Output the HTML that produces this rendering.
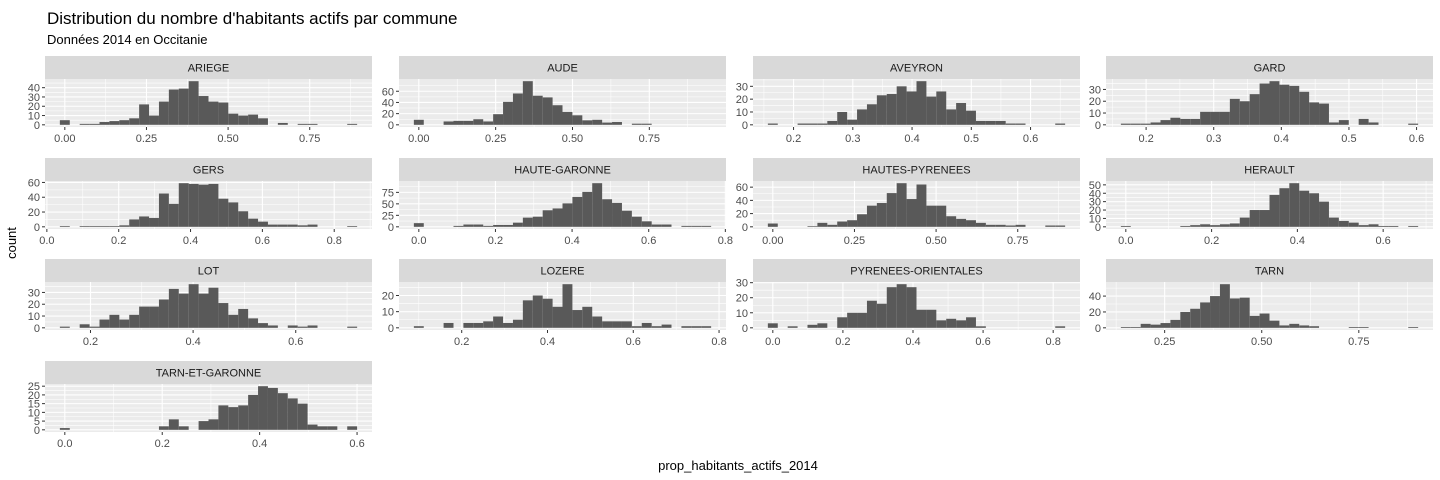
<!DOCTYPE html>
<html><head><meta charset="utf-8">
<style>
html,body{margin:0;padding:0;background:#fff;}
svg{display:block;font-family:"Liberation Sans",Arial,sans-serif;}
</style></head>
<body>
<svg id="chart" width="1440" height="480" viewBox="0 0 1440 480">
<text x="47" y="24" font-size="17" fill="#000">Distribution du nombre d'habitants actifs par commune</text>
<text x="47" y="44" font-size="13" fill="#000">Données 2014 en Occitanie</text>
<text x="738" y="470" font-size="13" text-anchor="middle" fill="#000">prop_habitants_actifs_2014</text>
<text x="0" y="0" font-size="13" text-anchor="middle" fill="#000" transform="translate(16,243) rotate(-90)">count</text>
<g id="panels"></g>
</svg>
<script>
const panelNames = ["ARIEGE","AUDE","AVEYRON","GARD","GERS","HAUTE-GARONNE","HAUTES-PYRENEES","HERAULT","LOT","LOZERE","PYRENEES-ORIENTALES","TARN","TARN-ET-GARONNE"];
const dataMin = [0,0,0.165,0.17,0.05,0,0,0,0.15,0.1,0,0.15,0];
const dataMax = [0.88,0.935,0.65,0.595,0.85,0.75,0.88,0.67,0.71,0.77,0.82,0.89,0.59];
const countsAriege = [5,0,1,1,3,4,5,7,22,10,25,38,39,47,31,25,24,12,10,11,7,0,2,0,1,1,0,0,0,1];
const countsAude = [9,0,0,6,7,7,10,6,19,41,56,78,52,49,35,23,17,8,9,4,5,0,2,2,0,0,0,0,0,0];
const countsAveyron = [1,0,0,1,1,1,3,10,4,12,16,23,24,30,26,34,22,26,12,17,11,3,3,3,1,1,0,0,0,1];
const countsGard = [1,1,1,2,4,6,5,5,11,11,11,22,20,26,35,37,34,33,28,19,18,2,4,0,5,2,0,0,0,1];
const countsGers = [1,0,1,1,1,1,2,10,14,12,45,31,59,58,57,58,38,33,21,11,7,3,3,3,2,3,0,0,0,1];
const countsHauteGaronne = [8,0,0,0,2,5,5,2,4,4,9,20,22,36,40,51,65,76,95,60,52,35,22,12,5,5,0,2,2,2];
const countsHautesPyrenees = [5,0,0,0,1,6,3,8,10,19,32,36,51,66,42,64,32,32,16,12,10,6,3,3,2,3,0,0,2,2];
const countsHerault = [1,0,0,0,0,0,1,2,3,2,3,4,11,20,20,38,46,52,43,40,30,11,7,5,2,3,1,1,0,1];
const countsLot = [1,0,3,1,7,11,7,11,18,18,24,33,29,37,29,34,21,11,16,8,4,2,0,2,1,2,0,0,0,1];
const countsLozere = [1,0,0,3,0,3,3,4,7,3,5,17,20,18,13,27,11,13,7,4,4,4,1,3,1,2,0,1,1,1];
const countsPyreneesOrientales = [3,0,1,0,2,3,0,7,10,10,18,16,27,29,27,12,12,5,6,5,7,1,0,0,0,0,0,0,0,1];
const countsTarn = [1,1,5,4,6,10,20,24,32,40,55,37,38,15,18,9,3,5,3,2,0,0,0,1,1,0,0,0,0,1];
const countsTarnEtGaronne = [1,0,0,0,0,0,0,0,0,0,2,6,2,0,5,6,14,13,14,20,25,24,21,18,15,3,2,2,0,2];
const allCounts = [countsAriege,countsAude,countsAveyron,countsGard,countsGers,countsHauteGaronne,countsHautesPyrenees,countsHerault,countsLot,countsLozere,countsPyreneesOrientales,countsTarn,countsTarnEtGaronne];
const xTickLabels = [
 ["0.00","0.25","0.50","0.75"],["0.00","0.25","0.50","0.75"],["0.2","0.3","0.4","0.5","0.6"],["0.2","0.3","0.4","0.5","0.6"],
 ["0.0","0.2","0.4","0.6","0.8"],["0.0","0.2","0.4","0.6","0.8"],["0.00","0.25","0.50","0.75"],["0.0","0.2","0.4","0.6"],
 ["0.2","0.4","0.6"],["0.2","0.4","0.6","0.8"],["0.0","0.2","0.4","0.6","0.8"],["0.25","0.50","0.75"],["0.0","0.2","0.4","0.6"]];
const yTickLabels = [
 ["0","10","20","30","40"],["0","20","40","60"],["0","10","20","30"],["0","10","20","30"],
 ["0","20","40","60"],["0","25","50","75"],["0","20","40","60"],["0","10","20","30","40","50"],
 ["0","10","20","30"],["0","10","20"],["0","10","20","30"],["0","20","40"],["0","5","10","15","20","25"]];

const NS = "http://www.w3.org/2000/svg";
const colX = [45,399,753,1106], rowY = [79,181,282,384], PW = 327, PH = 48, SH = 23;
const root = document.getElementById("panels");
function mk(tag, attrs, parent){const e=document.createElementNS(NS,tag);for(const k in attrs)e.setAttribute(k,attrs[k]);parent.appendChild(e);return e;}

panelNames.forEach((name, p) => {
  const counts = allCounts[p];
  const n = counts.length;
  const w = (dataMax[p]-dataMin[p])/(n-1);
  const lo = dataMin[p]-w/2, hi = dataMax[p]+w/2, span = hi-lo;
  const xl = lo-0.05*span, xh = hi+0.05*span;
  const ymax = Math.max(...counts);
  const yl = -0.05*ymax, yh = 1.05*ymax;
  const px = colX[p%4], py = rowY[Math.floor(p/4)];
  const X = v => px + (v-xl)/(xh-xl)*PW;
  const Y = v => py + PH - (v-yl)/(yh-yl)*PH;
  const g = mk("g", {}, root);
  
  
  const strip = mk("rect", {x:px,y:py-SH,width:PW,height:SH,fill:"#D9D9D9"}, g);
  
  
  const st = mk("text", {x:px+PW/2,y:py-SH/2+4,"font-size":"11","text-anchor":"middle",fill:"#1A1A1A"}, g);
  st.textContent = name;
  
  
  const bg = mk("rect", {x:px,y:py,width:PW,height:PH,fill:"#EBEBEB"}, g);
  
  
  const xt = xTickLabels[p].map(Number), yt = yTickLabels[p].map(Number);
  const xstep = xt.length>1 ? xt[1]-xt[0] : 0.1, ystep = yt.length>1 ? yt[1]-yt[0] : 10;
  for(let v = xt[0]-xstep/2; v <= xh; v += xstep){ if(v>=xl) mk("line",{x1:X(v),x2:X(v),y1:py,y2:py+PH,stroke:"#fff","stroke-width":"0.55"},g); }
  for(let v = yt[0]+ystep/2; v <= yh; v += ystep){ mk("line",{x1:px,x2:px+PW,y1:Y(v),y2:Y(v),stroke:"#fff","stroke-width":"0.55"},g); }
  xt.forEach((v,i) => {
    mk("line",{x1:X(v),x2:X(v),y1:py,y2:py+PH,stroke:"#fff","stroke-width":"1.1"},g);
    mk("line",{x1:X(v),x2:X(v),y1:py+PH,y2:py+PH+3,stroke:"#333","stroke-width":"1"},g);
    const t = mk("text",{x:X(v),y:py+PH+15,"font-size":"11","text-anchor":"middle",fill:"#4D4D4D"},g);
    t.textContent = xTickLabels[p][i];
    
    
  });
  yt.forEach((v,i) => {
    mk("line",{x1:px,x2:px+PW,y1:Y(v),y2:Y(v),stroke:"#fff","stroke-width":"1.1"},g);
    mk("line",{x1:px-3,x2:px,y1:Y(v),y2:Y(v),stroke:"#333","stroke-width":"1"},g);
    const t = mk("text",{x:px-5,y:Y(v)+4,"font-size":"11","text-anchor":"end",fill:"#4D4D4D"},g);
    t.textContent = yTickLabels[p][i];
    
    
  });
  counts.forEach((c,i) => {
    if(c<=0) return;
    const c0 = dataMin[p] + i*w;
    const r = mk("rect",{x:X(c0-w/2),y:Y(c),width:X(c0+w/2)-X(c0-w/2),height:Y(0)-Y(c),fill:"#595959"},g);
    
    
  });
});
</script>
</body></html>
